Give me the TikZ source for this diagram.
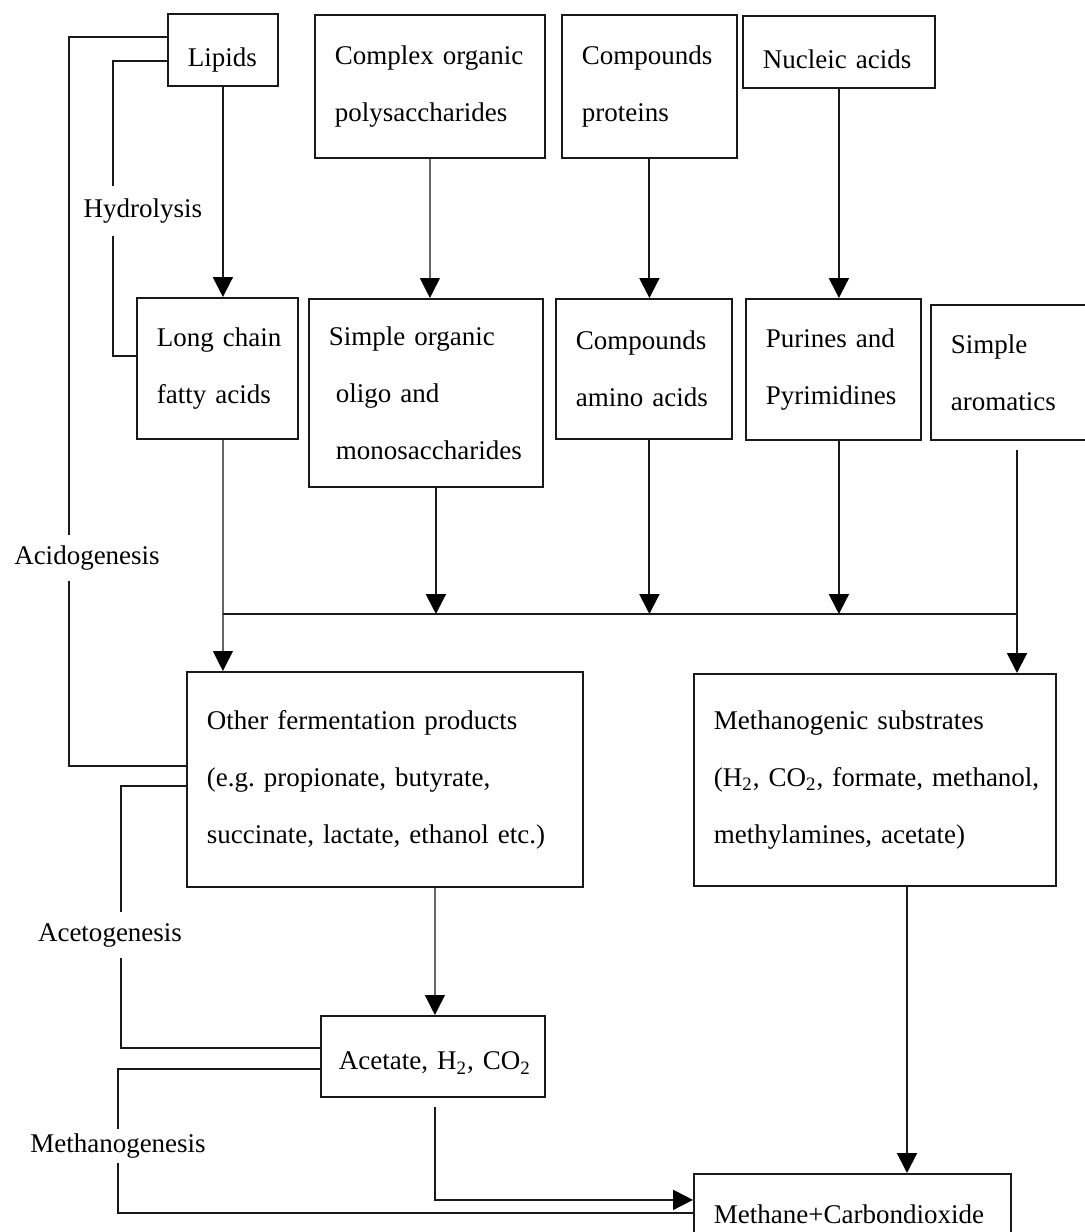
\documentclass[tikz,border=0pt]{standalone}
\usepackage{fontspec}
\setmainfont{Liberation Serif}
\usetikzlibrary{arrows.meta,calc}
\frenchspacing
\begin{document}
\begin{tikzpicture}[x=0.5pt,y=-0.5pt,
  box/.style={draw=black!90, line width=0.9pt, rectangle, anchor=north west,
    inner xsep=10pt, inner ysep=0pt, align=left,
    font=\fontsize{13.5}{28.5}\selectfont\frenchspacing},
  conn/.style={line width=1pt, draw=black!90},
  faint/.style={line width=0.6pt, draw=black!60},
  tip/.style={-{Triangle[width=10pt,length=10pt,color=black]}},
  lbl/.style={fill=white, inner xsep=1pt, inner ysep=5.5pt,
    font=\fontsize{13.5}{16}\selectfont}
]
\fill[white] (0,0) rectangle (1085,1232);
\useasboundingbox (0,0) rectangle (1085,1232);

% boxes
\node[box, minimum width=55pt, minimum height=36pt, text width=35pt,
      text height=19.4pt, text depth=2.9pt] (lipids) at (167,13) {Lipids};
\node[box, minimum width=115pt, minimum height=71.5pt, text width=95pt] (complex) at (314,14)
  {\mbox{Complex organic}\\\mbox{polysaccharides}};
\node[box, minimum width=87.5pt, minimum height=71.5pt, text width=67.5pt] (proteins) at (561,14)
  {Compounds\\proteins};
\node[box, minimum width=96pt, minimum height=36pt, text width=76pt,
      text height=19.4pt, text depth=2.9pt] (nucleic) at (742,15) {\mbox{Nucleic acids}};

\node[box, minimum width=80.5pt, minimum height=70.5pt, text width=60.5pt] (lcfa) at (136,297)
  {\mbox{Long chain}\\\mbox{fatty acids}};
\node[box, minimum width=117pt, minimum height=94pt, text width=97pt] (simple) at (308,298)
  {\mbox{Simple organic}\\\hspace*{3.5pt}\mbox{oligo and}\\\hspace*{3.5pt}\mbox{monosaccharides}};
\node[box, minimum width=88pt, minimum height=70pt, text width=68pt] (amino) at (555,298)
  {\mbox{Compounds}\\\mbox{amino acids}};
\node[box, minimum width=87.5pt, minimum height=70.5pt, text width=67.5pt] (purines) at (745,298)
  {\mbox{Purines and}\\\mbox{Pyrimidines}};
\node[box, minimum width=80pt, minimum height=67.5pt, text width=60pt] (aromatics) at (930,304)
  {Simple\\aromatics};

\node[box, minimum width=198pt, minimum height=107.5pt, text width=178pt] (other) at (186,671)
  {\mbox{Other fermentation products}\\\mbox{(e.g. propionate, butyrate,}\\\mbox{succinate, lactate, ethanol etc.)}};
\node[box, minimum width=181pt, minimum height=106pt, text width=161pt] (methsub) at (693,673)
  {\mbox{Methanogenic substrates}\\\mbox{(H\textsubscript{2}, CO\textsubscript{2}, formate, methanol,}\\\mbox{methylamines, acetate)}};

\node[box, inner xsep=9pt, minimum width=112pt, minimum height=40.5pt, text width=94pt,
      text height=16.5pt, text depth=3pt] (acetate) at (320,1015)
  {\mbox{Acetate, H\textsubscript{2}, CO\textsubscript{2}}};
\node[box, minimum width=158.5pt, minimum height=40pt, text width=138.5pt] (methane) at (693,1173)
  {\mbox{Methane+Carbondioxide}};

% helper coordinates
\coordinate (busy) at (0,614);
\coordinate (aromx) at (1017,0);
\coordinate (msx) at (907,0);

% hydrolysis arrows
\draw[conn,tip] (lipids.south) -- (lipids.south |- lcfa.north);
\draw[faint,tip] (complex.south) -- (complex.south |- simple.north);
\draw[conn,tip] (proteins.south) -- (proteins.south |- amino.north);
\draw[conn,tip] (nucleic.south) -- (nucleic.south |- purines.north);

% bus
\draw[faint,tip] (lipids.south |- lcfa.south) -- (lipids.south |- other.north);
\draw[conn] (lipids.south |- busy) -- (aromx |- busy);
\draw[conn,tip] ($(simple.south)+(10,0)$) -- ($(simple.south |- busy)+(10,0)$);
\draw[conn,tip] (proteins.south |- amino.south) -- (proteins.south |- busy);
\draw[conn,tip] (nucleic.south |- purines.south) -- (nucleic.south |- busy);
\draw[conn,tip] ($(aromatics.south -| aromx)+(0,9)$) -- (aromx |- methsub.north);

% lower part
\draw[faint,tip] ($(acetate.north |- other.south)+(2,0)$) -- ($(acetate.north)+(2,0)$);
\draw[conn,tip] (methsub.south -| msx) -- (msx |- methane.north);
\draw[conn,tip] ($(acetate.south)+(2,9)$) |- ($(methane.west)+(0,-14)$);

% stage brackets
\draw[conn] ($(lipids.west)+(0,-13)$) -- ++(-98,0) |- ($(other.west)+(0,-13.5)$);
\draw[conn,line width=0.7pt] ($(lipids.west)+(0,11)$) -- ++(-54,0) |- ($(lcfa.west)+(0,-12.5)$);
\draw[conn] ($(other.west)+(0,6.5)$) -- ++(-65,0) |- ($(acetate.west)+(0,-8.5)$);
\draw[conn] ($(acetate.west)+(0,12.5)$) -- ++(-202,0) |- ($(methane.west)+(0,-1)$);

% stage labels
\node[lbl, inner ysep=6.5pt] (hyd) at (143,211) {Hydrolysis};
\node[lbl] (acid) at (87,558) {Acidogenesis};
\node[lbl] (aceto) at (110,935) {Acetogenesis};
\node[lbl, inner ysep=2.5pt] (metha) at (118,1146) {Methanogenesis};
\end{tikzpicture}
\end{document}
